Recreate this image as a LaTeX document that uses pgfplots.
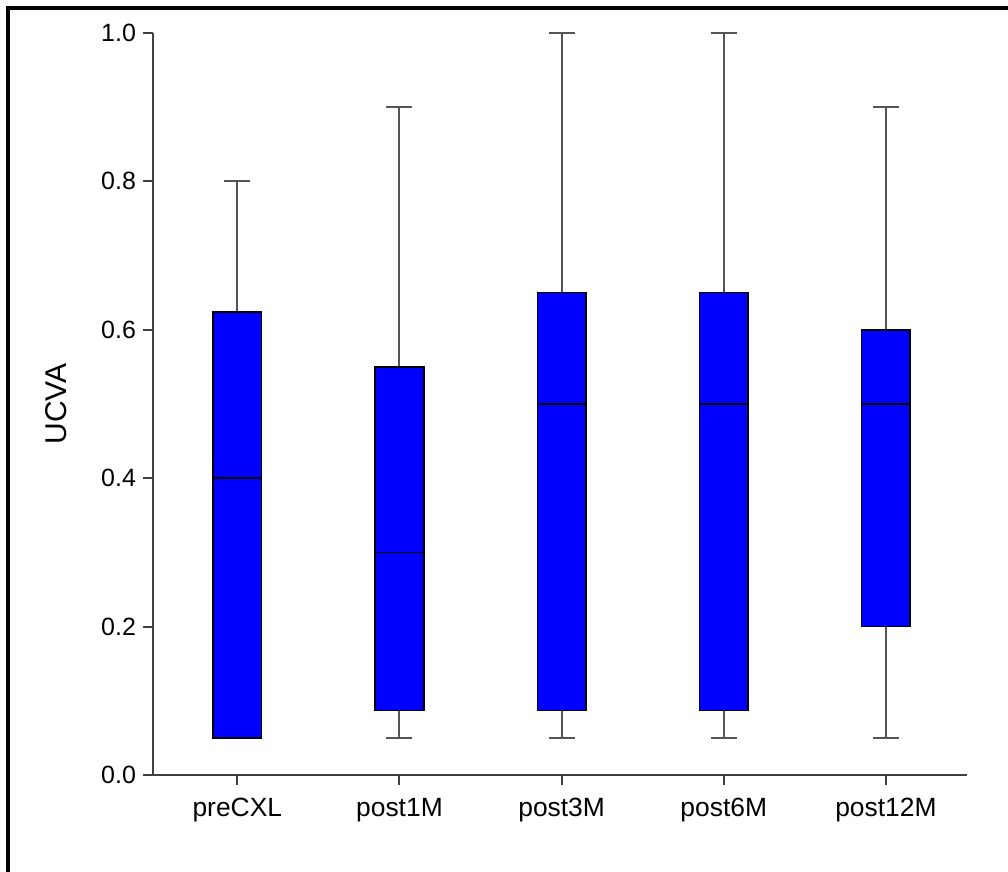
\documentclass[border=0pt]{standalone}
\usepackage{fontspec}
\setmainfont{Liberation Sans}
\usepackage{pgfplots}
\pgfplotsset{compat=1.18}
\usepgfplotslibrary{statistics}
\definecolor{axisgray}{HTML}{404040}
\definecolor{whiskgray}{HTML}{555555}
\begin{document}
\begin{tikzpicture}
\path[use as bounding box] (0,0) rectangle (504pt,436pt);
\draw[line width=1.6pt] (4pt,0) -- (4pt,432pt) -- (504pt,432pt);
\begin{axis}[
  at={(76.5pt,48.5pt)}, anchor=south west,
  scale only axis, width=407pt, height=371pt,
  xmin=-0.52, xmax=4.5, ymin=0, ymax=1,
  axis lines*=left,
  axis line style={axisgray, line width=1pt},
  every tick/.style={axisgray, line width=1pt},
  tick align=outside, major tick length=5pt,
  xtick={0,1,2,3,4},
  xticklabels={preCXL,post1M,post3M,post6M,post12M},
  ytick={0,0.2,0.4,0.6,0.8,1.0},
  /pgf/number format/assume math mode=true,
  tick label style={text=black},
  yticklabel style={font=\fontsize{12.5pt}{14pt}\selectfont, /pgf/number format/fixed, /pgf/number format/fixed zerofill, /pgf/number format/precision=1},
  xticklabel style={yshift=-3pt, font=\fontsize{13.2pt}{15pt}\selectfont},
  ylabel={UCVA},
  ylabel style={at={(axis description cs:-0.119,0.5)}, anchor=center, font=\fontsize{15pt}{17pt}\selectfont},
  boxplot/draw direction=y,
  boxplot/box extend=0.3,
  boxplot/whisker extend=0.16,
  boxplot/every box/.style={draw=black, fill=blue, line width=0.8pt},
  boxplot/every whisker/.style={whiskgray, line width=1pt},
  boxplot/every median/.style={black, line width=0.8pt},
  clip=false,
]
\addplot+[mark=none, boxplot prepared={draw position=0, lower whisker=0.05, lower quartile=0.05, median=0.4, upper quartile=0.624, upper whisker=0.8}] coordinates {};
\addplot+[mark=none, boxplot prepared={draw position=1, lower whisker=0.05, lower quartile=0.087, median=0.3, upper quartile=0.55, upper whisker=0.9}] coordinates {};
\addplot+[mark=none, boxplot prepared={draw position=2, lower whisker=0.05, lower quartile=0.087, median=0.5, upper quartile=0.65, upper whisker=1.0}] coordinates {};
\addplot+[mark=none, boxplot prepared={draw position=3, lower whisker=0.05, lower quartile=0.087, median=0.5, upper quartile=0.65, upper whisker=1.0}] coordinates {};
\addplot+[mark=none, boxplot prepared={draw position=4, lower whisker=0.05, lower quartile=0.2, median=0.5, upper quartile=0.6, upper whisker=0.9}] coordinates {};
\end{axis}
\end{tikzpicture}
\end{document}
